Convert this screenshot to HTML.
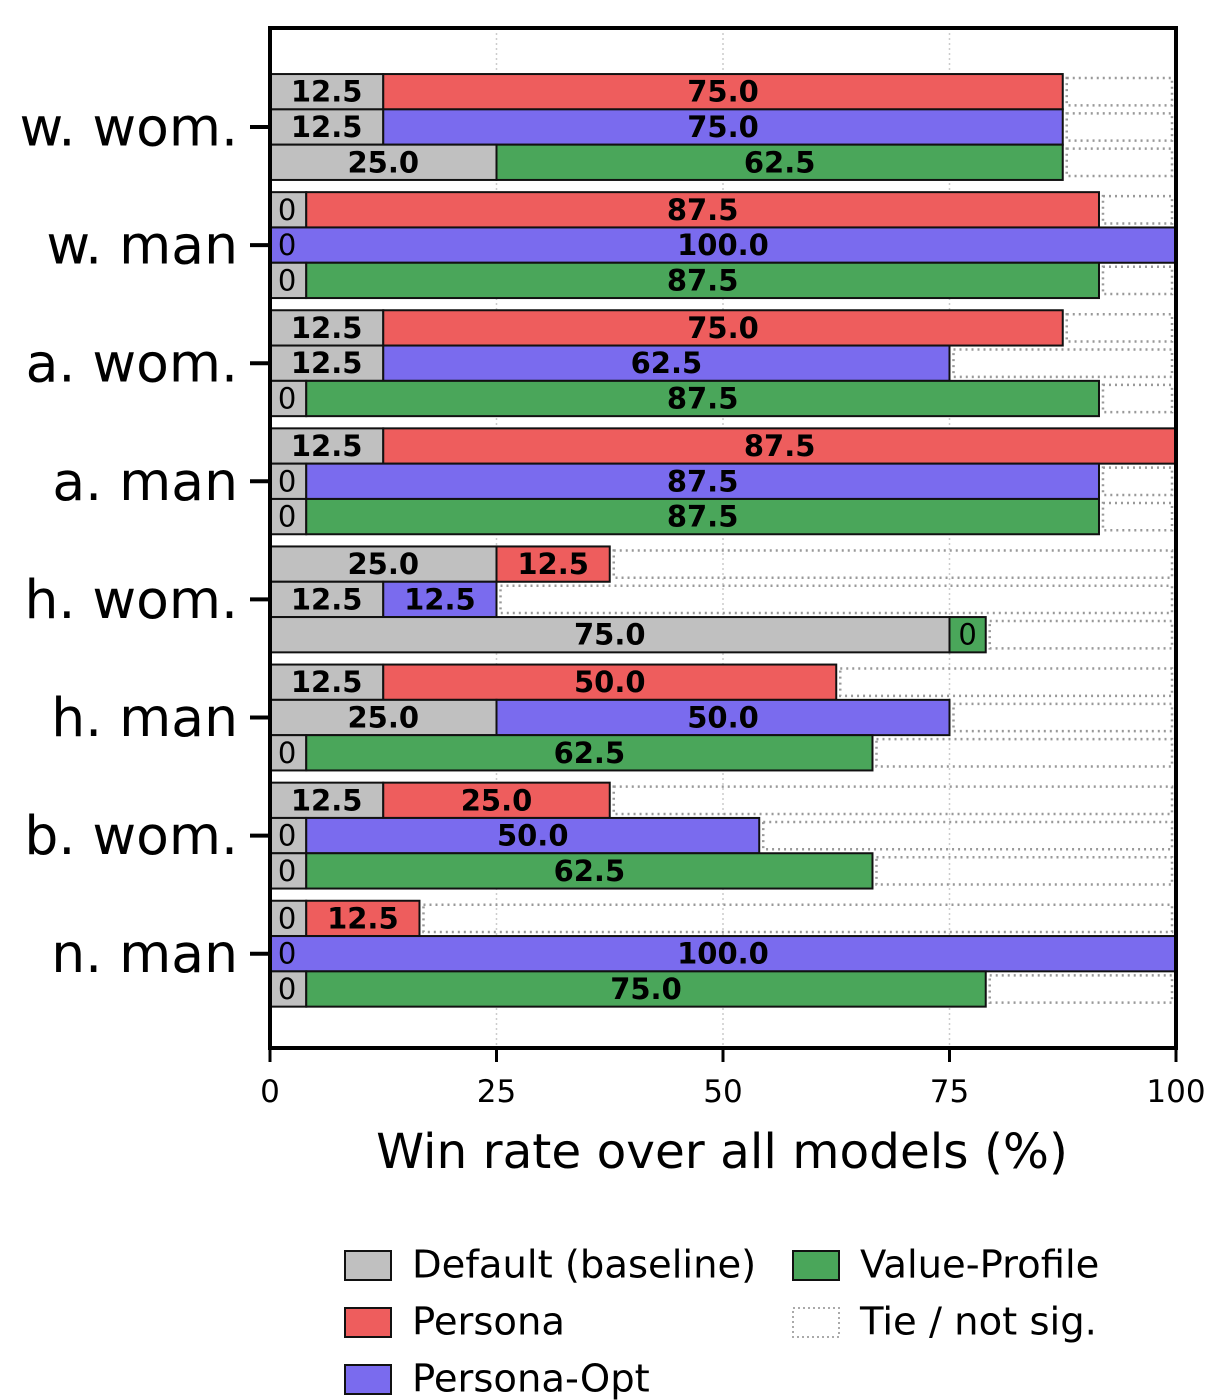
<!DOCTYPE html>
<html><head><meta charset="utf-8"><style>
html,body{margin:0;padding:0;background:#fff;}
svg{display:block;font-family:"DejaVu Sans","Liberation Sans",sans-serif;}
</style></head><body>
<svg id="chart" width="1225" height="1400" viewBox="0 0 1225 1400" xmlns="http://www.w3.org/2000/svg"></svg>
<script>
const groups = ["w. wom.","w. man","a. wom.","a. man","h. wom.","h. man","b. wom.","n. man"];
const methods = ["Persona","Persona-Opt","Value-Profile"];
const defaultPersona = [12.5,0,12.5,12.5,25,12.5,12.5,0];
const valuePersona = [75,87.5,75,87.5,12.5,50,25,12.5];
const defaultPersonaOpt = [12.5,0,12.5,0,12.5,25,0,0];
const valuePersonaOpt = [75,100,62.5,87.5,12.5,50,50,100];
const defaultValueProfile = [25,0,0,0,75,0,0,0];
const valueValueProfile = [62.5,87.5,87.5,87.5,0,62.5,62.5,75];
const xTicks = [0,25,50,75,100];

const svg = document.getElementById('chart');
const NS = 'http://www.w3.org/2000/svg';
const X0=270, X1=1176, PT=28, PB=1048;
const xs = v => X0 + (X1-X0)*v/100;
const gy = i => 127 + i*118.1;
const BH = 35.3;
const colors = {"Persona":"#ee5d5d","Persona-Opt":"#7a6bee","Value-Profile":"#4aa65a"};
const defs = [defaultPersona, defaultPersonaOpt, defaultValueProfile];
const vals = [valuePersona, valuePersonaOpt, valueValueProfile];
function el(tag, attrs, parent){const e=document.createElementNS(NS,tag);for(const k in attrs)e.setAttribute(k,attrs[k]);(parent||svg).appendChild(e);return e;}

xTicks.slice(1,4).forEach(t=>{
  const g=el('line',{x1:xs(t),x2:xs(t),y1:PT,y2:PB,stroke:'#ccc','stroke-width':1.5,'stroke-dasharray':'2,3'});
  
  
});
function label(x,y,txt,bold){
  const t=el('text',{x:x,y:y,'text-anchor':'middle','dominant-baseline':'central','font-size':29,'font-weight':bold?'bold':'normal',fill:'#000'});
  t.textContent=txt;
  
  
}
groups.forEach((g,i)=>{
  methods.forEach((m,j)=>{
    const cy=gy(i)+(j-1)*BH, top=cy-BH/2;
    const d=defs[j][i], v=vals[j][i];
    const dd=Math.max(d,4), vd=Math.max(v,4);
    const vs=Math.min(dd,100-vd), ve=Math.min(vs+vd,100);
    if(ve<100){
      const r=el('rect',{x:xs(ve)+4,y:top+4,width:xs(100)-xs(ve)-8,height:BH-8,fill:'none',stroke:'#999','stroke-width':2.5,'stroke-dasharray':'2,4'});
      
      
    }
    const rd=el('rect',{x:xs(0),y:top,width:xs(dd)-xs(0),height:BH,fill:'#c0c0c0',stroke:'#111','stroke-width':2});
    
    
    const rv=el('rect',{x:xs(vs),y:top,width:xs(ve)-xs(vs),height:BH,fill:colors[m],stroke:'#111','stroke-width':2});
    
    
    if(d===0) label(xs(2)-1,cy,'0',false); else label((xs(0)+xs(dd))/2,cy,d.toFixed(1),true);
    if(v===0) label((xs(vs)+xs(ve))/2,cy,'0',false); else label((xs(vs)+xs(ve))/2,cy,v.toFixed(1),true);
  });
  const t=el('text',{x:238,y:gy(i),'text-anchor':'end','dominant-baseline':'central','font-size':53.5,fill:'#000'});
  t.textContent=g;
  
  
  const tk=el('line',{x1:250,x2:X0,y1:gy(i),y2:gy(i),stroke:'#000','stroke-width':4});
  
  
});
const frame=el('rect',{x:X0,y:PT,width:X1-X0,height:PB-PT,fill:'none',stroke:'#000','stroke-width':4});


xTicks.forEach(t=>{
  const l=el('line',{x1:xs(t),x2:xs(t),y1:PB,y2:PB+14,stroke:'#000','stroke-width':3});
  
  
  const tx=el('text',{x:xs(t),y:1102,'text-anchor':'middle','font-size':31,fill:'#000'});
  tx.textContent=t;
  
  
});
const xl=el('text',{x:722,y:1168,'text-anchor':'middle','font-size':48.5,fill:'#000'});
xl.textContent='Win rate over all models (%)';



const legendItems=[["Default (baseline)","#c0c0c0",345,1265,false],["Persona","#ee5d5d",345,1322,false],["Persona-Opt","#7a6bee",345,1379,false],["Value-Profile","#4aa65a",793,1265,false],["Tie / not sig.","none",793,1322,true]];
legendItems.forEach(([name,c,x,y,dot])=>{
  const r=el('rect',{x:x,y:y-14,width:46,height:29,fill:c,stroke:dot?'#aaa':'#111','stroke-width':2,'stroke-dasharray':dot?'2,3':'none'});
  
  
  const t=el('text',{x:x+67,y:y,'dominant-baseline':'central','font-size':38.5,fill:'#000'});
  t.textContent=name;
  
  
});
</script>
</body></html>
